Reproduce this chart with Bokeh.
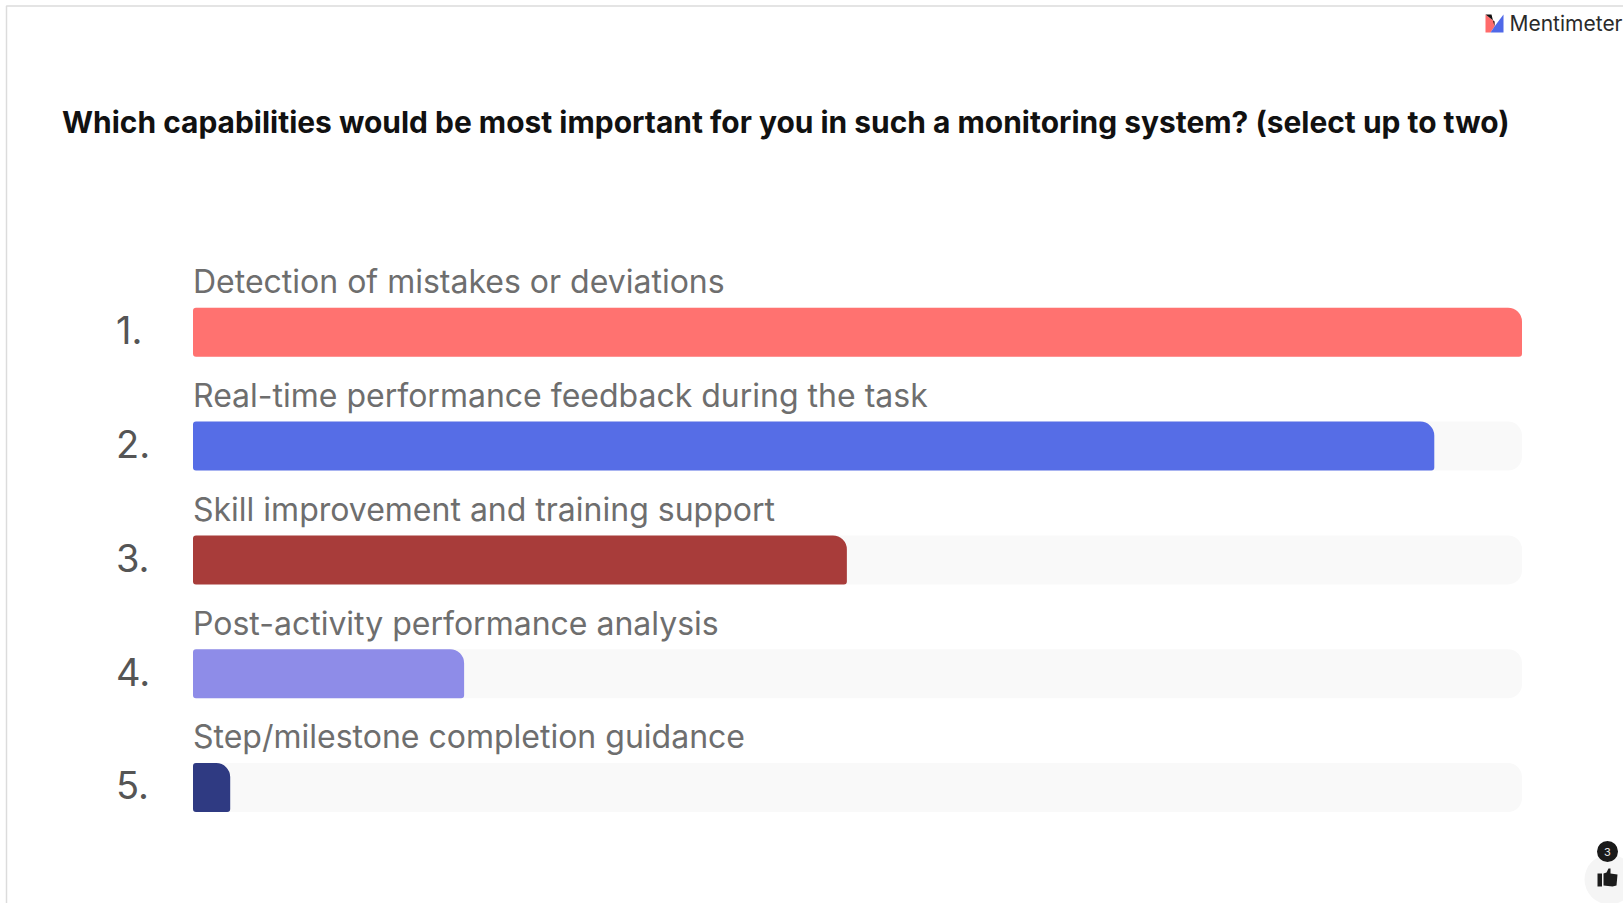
from bokeh.embed import file_html
from bokeh.resources import INLINE
from bokeh.plotting import figure
from bokeh.models import Range1d, ColumnDataSource
from bokeh.core.properties import value

WIDTH, HEIGHT = 1623, 903

title = "Which capabilities would be most important for you in such a monitoring system? (select up to two)"
ranks = [1, 2, 3, 4, 5]
rank_labels = ["1.", "2.", "3.", "4.", "5."]
options = [
    "Detection of mistakes or deviations",
    "Real-time performance feedback during the task",
    "Skill improvement and training support",
    "Post-activity performance analysis",
    "Step/milestone completion guidance",
]
shares = [100.0, 93.4, 49.2, 20.4, 2.8]
colors = ["#ff7270", "#566de6", "#a83c3a", "#8e8ce8", "#2f3a82"]

FONT = "Inter"
TRACK_LEFT, TRACK_RIGHT = 192.5, 1521.5
FIRST_CENTER, STEP = 331.7, 113.85

px_per_unit = (TRACK_RIGHT - TRACK_LEFT) / 100
row_h = STEP

p = figure(
    width=WIDTH, height=HEIGHT, output_backend="svg", toolbar_location=None,
    x_range=Range1d(-TRACK_LEFT / px_per_unit, (WIDTH - TRACK_LEFT) / px_per_unit),
    y_range=Range1d(1 + (HEIGHT - FIRST_CENTER) / row_h, 1 - FIRST_CENTER / row_h),
    min_border=0, min_border_left=0, min_border_right=0, min_border_top=0, min_border_bottom=0,
    background_fill_color="white", border_fill_color="white", outline_line_color=None,
)
p.xaxis.visible = False
p.yaxis.visible = False
p.grid.visible = False

# A second pair of ranges in page pixels, for the slide furniture and the text.
p.extra_x_ranges["page"] = Range1d(0, WIDTH)
p.extra_y_ranges["page"] = Range1d(HEIGHT, 0)
page = dict(x_range_name="page", y_range_name="page")

# Slide frame
p.line([6, 6, WIDTH], [HEIGHT, 5.5, 5.5], line_color="#dcdcdc", line_width=1.5, **page)

# Bars and their pale tracks
source = ColumnDataSource(dict(
    y=ranks, share=shares, color=colors, full=[100] * len(ranks), zero=[0] * len(ranks),
))
bar_h = 49 / row_h
p.hbar(y="y", left="zero", right="full", height=bar_h, source=source,
       fill_color="#f9f9f9", line_color=None, border_radius=(3, 14, 14, 3))
p.hbar(y="y", left="zero", right="share", height=bar_h, source=source,
       fill_color="color", line_color=None, border_radius=(3, 14, 3, 3))

# Rank numbers and option labels
p.text(x=[115.5] * 5, y=[329.5 + STEP * (r - 1) for r in ranks], text=rank_labels,
       text_font=value(FONT), text_font_size="38px", text_color="#555555",
       text_baseline="middle", text_align="left", **page)
p.text(x=[TRACK_LEFT] * 5, y=[281 + STEP * (r - 1) for r in ranks], text=options,
       text_font=value(FONT), text_font_size="32px", text_color="#6e6e6e",
       text_baseline="middle", text_align="left", **page)

# Question
p.text(x=[61.5], y=[121], text=[title], text_font=value(FONT), text_font_size="29.95px",
       text_font_style="bold", text_color="#111111",
       text_baseline="middle", text_align="left", **page)

# Brand mark and name
p.patch([1485, 1485, 1490, 1494, 1494], [14, 32, 32, 26, 21], fill_color="#ff6b6b", line_color=None, **page)
p.patch([1485, 1494, 1494, 1491], [14, 21, 26, 14], fill_color="#111111", line_color=None, **page)
p.patch([1503, 1503, 1490, 1494, 1503], [14, 32, 32, 26, 14], fill_color="#4f68e8", line_color=None, **page)
p.text(x=[1509], y=[23], text=["Mentimeter"], text_font=value(FONT), text_font_size="21px",
       text_color="#2a2a2a", text_baseline="middle", text_align="left", **page)

# Reactions button with its counter
p.scatter([1609], [879], size=50, marker="circle", fill_color="#f5f5f5", line_color=None, **page)
p.patch([1603, 1606, 1608, 1610, 1610, 1617, 1616, 1612, 1603],
        [873, 872, 868, 868, 873, 874, 885, 886, 885],
        fill_color="#1c1c1c", line_color=None, **page)
p.quad(left=[1597], right=[1601.5], top=[873], bottom=[886], fill_color="#1c1c1c", line_color=None, **page)
p.scatter([1607], [851], size=21, marker="circle", fill_color="#1a1a1a", line_color=None, **page)
p.text(x=[1607], y=[851], text=["3"], text_font=value(FONT), text_font_size="11px",
       text_color="#e8e8e8", text_align="center", text_baseline="middle", **page)

open("out.html", "w").write(file_html(p, INLINE))
